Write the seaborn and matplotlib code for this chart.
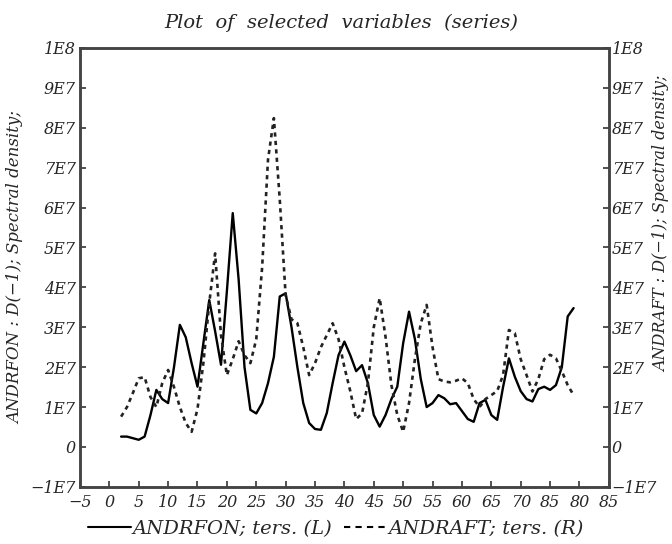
import matplotlib
matplotlib.use("Agg")
import matplotlib.pyplot as plt
import numpy as np
import pandas as pd
import seaborn as sns
from matplotlib.lines import Line2D

# data (values in units of 1E7)
x_vals = list(range(2, 80))
andrfon = [0.26, 0.26, 0.22, 0.18, 0.26, 0.8, 1.43, 1.2, 1.1, 2.0,
           3.06, 2.75, 2.1, 1.51, 2.6, 3.68, 2.9, 2.06, 3.9, 5.86,
           4.2, 2.0, 0.93, 0.84, 1.1, 1.6, 2.26, 3.77, 3.85, 3.0,
           2.0, 1.1, 0.6, 0.45, 0.43, 0.85, 1.6, 2.3, 2.64, 2.3,
           1.9, 2.05, 1.6, 0.8, 0.51, 0.8, 1.2, 1.51, 2.6, 3.39,
           2.7, 1.7, 1.0, 1.1, 1.3, 1.22, 1.07, 1.1, 0.9, 0.7,
           0.63, 1.1, 1.18, 0.8, 0.68, 1.5, 2.22, 1.76, 1.4, 1.2,
           1.14, 1.45, 1.51, 1.43, 1.55, 2.0, 3.27, 3.48]
andraft = [0.76, 1.0, 1.35, 1.72, 1.75, 1.25, 1.0, 1.6, 1.93, 1.5,
           1.0, 0.6, 0.38, 0.95, 2.1, 3.6, 4.85, 2.8, 1.8, 2.2,
           2.65, 2.3, 2.1, 2.7, 4.5, 7.2, 8.24, 6.2, 3.8, 3.2,
           3.1, 2.5, 1.8, 2.1, 2.5, 2.8, 3.1, 2.7, 2.0, 1.4,
           0.7, 0.84, 1.6, 3.0, 3.73, 2.76, 1.55, 0.8, 0.38, 1.1,
           2.2, 3.1, 3.56, 2.5, 1.7, 1.64, 1.62, 1.66, 1.72, 1.6,
           1.2, 1.0, 1.2, 1.3, 1.4, 1.8, 2.93, 2.85, 2.2, 1.8,
           1.39, 1.7, 2.2, 2.31, 2.22, 1.9, 1.55, 1.3]

x_ticks = list(range(-5, 90, 5))
x_ticklabels = ['−5', '0', '5', '10', '15', '20', '25', '30', '35', '40',
                '45', '50', '55', '60', '65', '70', '85', '80', '85']
y_ticks = [-1e7, 0] + [i * 1e7 for i in range(1, 11)]
y_ticklabels = ['−1E7', '0', '1E7', '2E7', '3E7', '4E7', '5E7', '6E7',
                '7E7', '8E7', '9E7', '1E8']

df = pd.DataFrame({'x': x_vals,
                   'ANDRFON': np.array(andrfon) * 1e7,
                   'ANDRAFT': np.array(andraft) * 1e7})

sns.set_style("ticks")
plt.rcParams['font.family'] = ['DejaVu Serif']
plt.rcParams['font.style'] = 'italic'

fig = plt.figure(figsize=(6.72, 5.44), dpi=100)
ax = fig.add_axes([0.119, 0.105, 0.787, 0.807])
ax2 = ax.twinx()

sns.lineplot(data=df, x='x', y='ANDRFON', ax=ax, color='black', lw=1.7)
sns.lineplot(data=df, x='x', y='ANDRAFT', ax=ax2, color='#222222', lw=1.9,
             linestyle=(0, (1.6, 1.6)))

spine_col = '#444444'
for a in (ax, ax2):
    a.set_xlim(-5, 85)
    a.set_ylim(-1e7, 1e8)
    a.set_yticks(y_ticks)
    a.set_yticklabels(y_ticklabels, fontsize=11.5)
    for s in a.spines.values():
        s.set_color(spine_col)
        s.set_linewidth(1.8)
    a.tick_params(direction='in', length=4, width=1.3, color=spine_col, pad=3)

ax.set_xticks(x_ticks)
ax.set_xticklabels(x_ticklabels, fontsize=11.5)
ax.tick_params(axis='x', pad=5)
ax2.tick_params(axis='y', pad=2)

ax.set_xlabel('')
ax.set_ylabel('ANDRFON : D(−1); Spectral density;', fontsize=12)
ax.yaxis.set_label_coords(-0.105, 0.5)
ax2.set_ylabel('ANDRAFT : D(−1); Spectral density;', fontsize=11.5,
               rotation=90, va='center')
ax2.yaxis.set_label_coords(1.1, 0.6)

fig.text(0.508, 0.958, 'Plot  of  selected  variables  (series)',
         ha='center', va='center', fontsize=14)

handles = [Line2D([], [], color='black', lw=1.5),
           Line2D([], [], color='black', lw=1.5, linestyle=(0, (3, 2.5)))]
fig.legend(handles, ['ANDRFON; ters. (L)', 'ANDRAFT; ters. (R)'],
           loc='center', bbox_to_anchor=(0.5, 0.028), ncol=2,
           frameon=False, fontsize=14, handlelength=2.2, handletextpad=0.1,
           columnspacing=0.6)

fig.savefig('out.png', dpi=100)
